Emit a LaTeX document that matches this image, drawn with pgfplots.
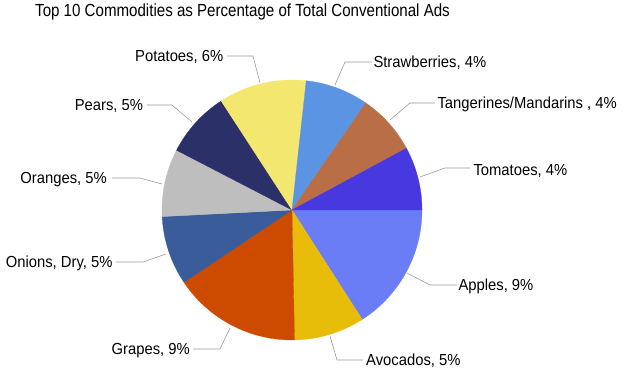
\documentclass[border=0pt]{standalone}
\usepackage{pgfplots}
\pgfplotsset{compat=1.18}
\usepackage{fontspec}
\setmainfont{Liberation Sans}
\definecolor{cApples}{HTML}{6A7CF6}
\definecolor{cAvocados}{HTML}{E8BD0A}
\definecolor{cGrapes}{HTML}{CC4B00}
\definecolor{cOnions}{HTML}{3A5C9A}
\definecolor{cOranges}{HTML}{BEBEBE}
\definecolor{cPears}{HTML}{2B3068}
\definecolor{cPotatoes}{HTML}{F3E76F}
\definecolor{cStrawberries}{HTML}{5B94E2}
\definecolor{cTangerines}{HTML}{BA6E45}
\definecolor{cTomatoes}{HTML}{4838E0}
\definecolor{leader}{HTML}{9A9A9A}
% share of total conventional ads (%)
\def\vApples{8.9}
\def\vAvocados{4.9}
\def\vGrapes{8.9}
\def\vOnions{4.8}
\def\vOranges{4.7}
\def\vPears{4.6}
\def\vPotatoes{6.1}
\def\vStrawberries{4.4}
\def\vTangerines{4.2}
\def\vTomatoes{4.4}
\pgfmathsetmacro\tot{\vApples+\vAvocados+\vGrapes+\vOnions+\vOranges+\vPears+\vPotatoes+\vStrawberries+\vTangerines+\vTomatoes}
\gdef\sStart{0}
\newcommand\pieslice[2]{%
  \pgfmathsetmacro\sEnd{\sStart-360*#1/\tot}%
  \edef\tmp{\noexpand\addplot[fill=#2, draw=#2, line width=0.3pt, domain=\sStart:\sEnd, samples=60, variable=\noexpand\t]
    ({292+130*cos(\noexpand\t)},{164+130*sin(\noexpand\t)}) -- (axis cs:292,164) -- cycle;}%
  \tmp
  \xdef\sStart{\sEnd}}
\newcommand\lab[1]{\scalebox{1}[1.08]{#1}}
\begin{document}
\begin{tikzpicture}
\useasboundingbox (0,0) rectangle (626bp,374bp);
\begin{axis}[at={(0,0)}, anchor=south west, scale only axis,
  width=626bp, height=374bp, xmin=0, xmax=626, ymin=0, ymax=374,
  hide axis, clip=false]
\pieslice{\vApples}{cApples}
\pieslice{\vAvocados}{cAvocados}
\pieslice{\vGrapes}{cGrapes}
\pieslice{\vOnions}{cOnions}
\pieslice{\vOranges}{cOranges}
\pieslice{\vPears}{cPears}
\pieslice{\vPotatoes}{cPotatoes}
\pieslice{\vStrawberries}{cStrawberries}
\pieslice{\vTangerines}{cTangerines}
\pieslice{\vTomatoes}{cTomatoes}
% leader lines
\draw[leader, line width=0.6pt] (axis cs:227,318) -- (axis cs:253,318) -- (axis cs:260,291);
\draw[leader, line width=0.6pt] (axis cs:147,269) -- (axis cs:172,269) -- (axis cs:192,252);
\draw[leader, line width=0.6pt] (axis cs:112,196) -- (axis cs:140,196) -- (axis cs:162,190);
\draw[leader, line width=0.6pt] (axis cs:116,112) -- (axis cs:143,112) -- (axis cs:166,120);
\draw[leader, line width=0.6pt] (axis cs:193,25) -- (axis cs:220,25) -- (axis cs:230,46);
\draw[leader, line width=0.6pt] (axis cs:363,14) -- (axis cs:337,14) -- (axis cs:330,38);
\draw[leader, line width=0.6pt] (axis cs:457,89) -- (axis cs:430,89) -- (axis cs:407,101);
\draw[leader, line width=0.6pt] (axis cs:470,206) -- (axis cs:445,206) -- (axis cs:420,197);
\draw[leader, line width=0.6pt] (axis cs:435,271) -- (axis cs:410,271) -- (axis cs:390,254);
\draw[leader, line width=0.6pt] (axis cs:372,312) -- (axis cs:345,312) -- (axis cs:335,289);
% labels
\begin{scope}[every node/.style={inner sep=0pt, font=\fontsize{14.8bp}{17bp}\selectfont}]
\node[anchor=base west] at (axis cs:135,312.6) {\lab{Potatoes, 6\%}};
\node[anchor=base east] at (axis cs:143.3,263.6) {\lab{Pears, 5\%}};
\node[anchor=base east] at (axis cs:107,190.3) {\lab{Oranges, 5\%}};
\node[anchor=base east] at (axis cs:112.7,106.6) {\lab{Onions, Dry, 5\%}};
\node[anchor=base east] at (axis cs:190,19.6) {\lab{Grapes, 9\%}};
\node[anchor=base west] at (axis cs:366,8.6) {\lab{Avocados, 5\%}};
\node[anchor=base west] at (axis cs:458.3,83.6) {\lab{Apples, 9\%}};
\node[anchor=base west] at (axis cs:473.3,198.6) {\lab{Tomatoes, 4\%}};
\node[anchor=base west] at (axis cs:437.3,265.3) {\lab{Tangerines/Mandarins , 4\%}};
\node[anchor=base west] at (axis cs:373.3,306.9) {\lab{Strawberries, 4\%}};
\end{scope}
\node[anchor=base west, inner sep=0pt, font=\fontsize{15.1bp}{18bp}\selectfont] at (axis cs:35,357.3) {\scalebox{1}[1.16]{Top 10 Commodities as Percentage of Total Conventional Ads}};
\end{axis}
\end{tikzpicture}
\end{document}
